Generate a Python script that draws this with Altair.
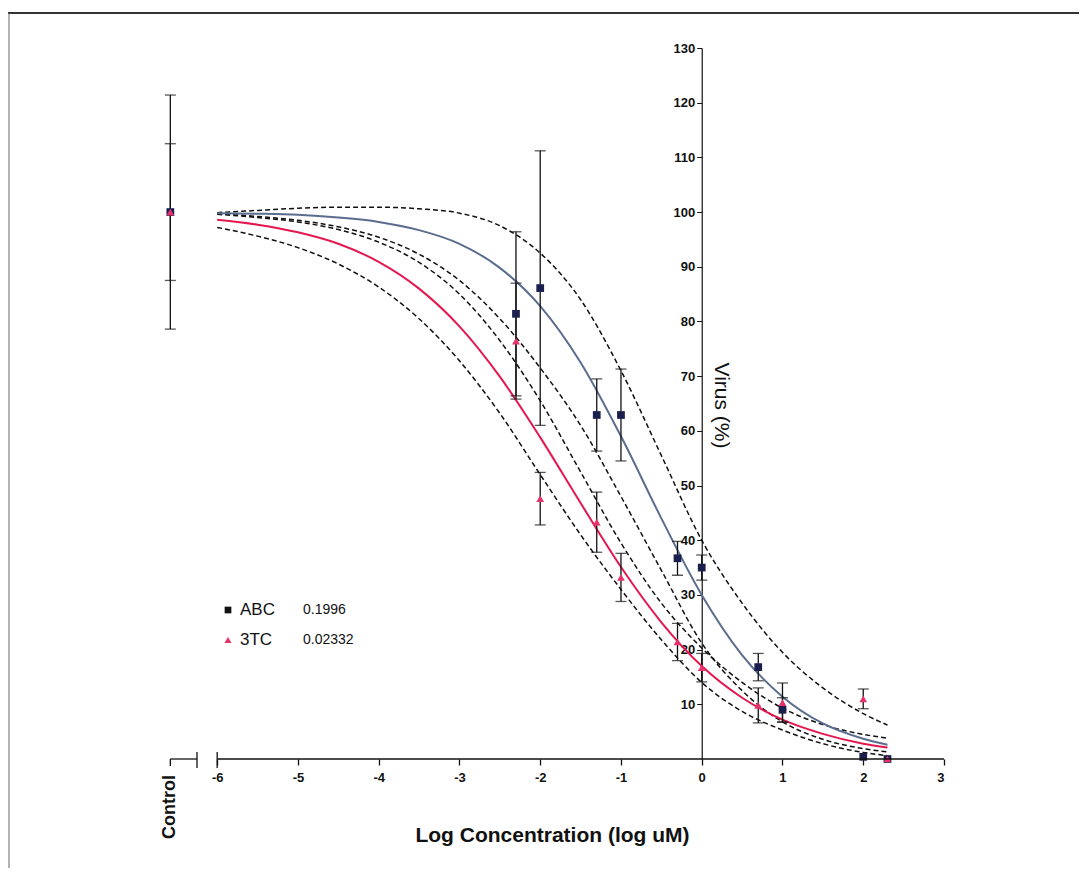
import altair as alt
import pandas as pd

# ---------------- data ----------------
curve_x   = [-6.0, -5.5, -5.0, -4.5, -4.0, -3.5, -3.0, -2.5, -2.0, -1.5, -1.0, -0.5, 0.0, 0.5, 1.0, 1.5, 2.0, 2.3]
abc_fit   = [99.8, 99.7, 99.5, 99.0, 98.2, 96.7, 94.2, 89.8, 82.8, 72.5, 59.0, 44.0, 30.0, 19.0, 11.4, 6.5, 3.7, 2.6]
abc_upper = [99.9, 100.3, 100.7, 100.9, 100.9, 100.6, 99.8, 97.5, 92.5, 84.0, 71.0, 55.5, 40.0, 28.5, 19.5, 13.0, 8.3, 6.2]
abc_lower = [99.7, 99.2, 98.5, 97.3, 95.4, 92.3, 87.5, 80.5, 71.5, 61.0, 48.0, 34.5, 21.2, 12.5, 6.8, 3.6, 1.9, 1.3]
tc_fit    = [98.6, 97.7, 96.3, 94.2, 90.9, 86.0, 79.1, 69.9, 58.8, 46.8, 35.1, 25.0, 17.0, 11.2, 7.2, 4.6, 2.8, 2.1]
tc_upper  = [99.6, 99.0, 98.2, 96.8, 94.5, 90.8, 85.0, 76.5, 65.5, 52.5, 39.5, 28.5, 20.3, 14.0, 9.3, 6.3, 4.5, 3.8]
tc_lower  = [97.2, 95.6, 93.5, 90.5, 86.3, 80.5, 72.8, 63.2, 52.0, 41.0, 31.0, 21.8, 14.0, 8.7, 5.3, 2.8, 1.2, 0.6]

CONTROL_X = -6.58
point_x = [CONTROL_X, -2.3, -2.0, -1.3, -1.0, -0.3, 0.0, 0.7, 1.0, 2.0, 2.3]
abc_y   = [100.0, 81.4, 86.1, 62.9, 62.9, 36.7, 35.0, 16.8, 9.0, 0.4, 0.0]
abc_err = [21.4, 15.0, 25.1, 6.6, 8.4, 3.1, 2.3, 2.5, 2.2, 0.0, 0.0]
tc_y    = [100.0, 76.4, 47.6, 43.3, 33.2, 21.4, 16.7, 9.8, 10.3, 11.0, 0.0]
tc_err  = [12.5, 10.6, 4.8, 5.5, 4.4, 3.4, 2.6, 3.2, 3.6, 1.8, 0.0]

x_ticks = [-6, -5, -4, -3, -2, -1, 0, 1, 2, 3]
y_ticks = [10, 20, 30, 40, 50, 60, 70, 80, 90, 100, 110, 120, 130]
legend_names = ["ABC", "3TC"]
legend_ic50 = ["0.1996", "0.02332"]
control_label = ["Control"]

# ---------------- tables ----------------
rows = []
for name, vals, kind in [("ABC", abc_fit, "fit"), ("ABC", abc_upper, "upper"), ("ABC", abc_lower, "lower"),
                         ("3TC", tc_fit, "fit"), ("3TC", tc_upper, "upper"), ("3TC", tc_lower, "lower")]:
    for xv, yv in zip(curve_x, vals):
        rows.append({"x": xv, "y": yv, "series": name, "kind": kind, "cid": name + kind})
curves = pd.DataFrame(rows)

prow = []
for name, ys_, es in [("ABC", abc_y, abc_err), ("3TC", tc_y, tc_err)]:
    for xv, yv, ev in zip(point_x, ys_, es):
        prow.append({"x": xv, "y": yv, "lo": yv - ev, "hi": yv + ev, "err": ev, "series": name})
points = pd.DataFrame(prow)
errs = points[points["err"] > 0]
caps = pd.concat([errs.assign(cy=errs["lo"]), errs.assign(cy=errs["hi"])])

W, H = 784, 711
XMIN, XMAX = -6.708, 3.0
x_zero_px = (0 - XMIN) / (XMAX - XMIN) * W

xs = alt.Scale(domain=[XMIN, XMAX], nice=False, zero=False)
ys = alt.Scale(domain=[0, 130], nice=False, zero=False)

xaxis = alt.Axis(values=x_ticks, domain=False, grid=False, ticks=True, tickSize=6, tickColor="#111",
                 tickWidth=1.3, labelExpr="'' + datum.value",
                 labelFont="Liberation Sans", labelFontWeight="bold", labelFontSize=13, labelColor="#111",
                 labelPadding=6, title="Log Concentration (log uM)", titleFont="Liberation Sans",
                 titleFontWeight="bold", titleFontSize=21, titleColor="#111", titleY=76, titleBaseline="middle")
yaxis = alt.Axis(values=y_ticks, offset=-x_zero_px, grid=False, domainColor="#111", domainWidth=1.2,
                 tickColor="#111", tickSize=5, labelFont="Liberation Sans", labelFontWeight="bold",
                 labelFontSize=13, labelColor="#111", labelPadding=2,
                 title="Virus  (%)", titleAngle=90, titleX=19, titleY=357, titleAlign="center",
                 titleBaseline="middle", titleFont="Liberation Sans", titleFontWeight="normal",
                 titleFontSize=21, titleColor="#111")


def X(f):
    return alt.X(f, type="quantitative", scale=xs, axis=xaxis)


def Y(f):
    return alt.Y(f, type="quantitative", scale=ys, axis=yaxis)


color_scale = alt.Scale(domain=["ABC", "3TC"], range=["#5b6d8f", "#e5174f"])

bands = alt.Chart(curves[curves["kind"] != "fit"]).mark_line(
    color="#111", strokeDash=[5, 3], strokeWidth=1.5, interpolate="monotone"
).encode(x=X("x"), y=Y("y"), detail="cid:N")

fits = alt.Chart(curves[curves["kind"] == "fit"]).mark_line(
    strokeWidth=2, interpolate="monotone"
).encode(x=X("x"), y=Y("y"), color=alt.Color("series:N", scale=color_scale, legend=None))

ebars = alt.Chart(errs).mark_rule(color="#111", strokeWidth=1.3).encode(
    x=X("x"), y=Y("lo"), y2="hi")
ecaps = alt.Chart(caps).mark_tick(color="#111", orient="horizontal", size=11, thickness=1.3).encode(
    x=X("x"), y=Y("cy"))

abc_pts = alt.Chart(points[points["series"] == "ABC"]).mark_point(
    shape="square", filled=True, size=60, color="#1b1f4d", opacity=1).encode(x=X("x"), y=Y("y"))
tc_pts = alt.Chart(points[points["series"] == "3TC"]).mark_point(
    shape="triangle-up", filled=True, size=60, color="#e8336a", opacity=1).encode(x=X("x"), y=Y("y"))

# axis line segments (broken axis)
seg = pd.DataFrame({"a": [x_ticks[0]], "b": [x_ticks[-1]], "c": [CONTROL_X], "d": [-6.25]})
main_line = alt.Chart(seg).mark_rule(color="#111", strokeWidth=1.3).encode(
    x=X("a"), x2="b:Q", y=alt.value(H))
ctrl_line = alt.Chart(seg).mark_rule(color="#111", strokeWidth=1.3).encode(
    x=X("c"), x2="d:Q", y=alt.value(H))
ctrl_tick = alt.Chart(seg).mark_rule(color="#111", strokeWidth=1.3).encode(
    x=X("c"), y=alt.value(H), y2=alt.value(H + 7))
brk1 = alt.Chart(seg).mark_rule(color="#111", strokeWidth=1.3).encode(
    x=X("d"), y=alt.value(H - 7), y2=alt.value(H + 9))
brk2 = alt.Chart(seg).mark_rule(color="#111", strokeWidth=1.3).encode(
    x=X("a"), y=alt.value(H - 7), y2=alt.value(H + 9))

ctrl_text = alt.Chart(pd.DataFrame({"t": control_label, "x": [CONTROL_X]})).mark_text(
    angle=270, align="center", baseline="middle", font="Liberation Sans", fontWeight="bold",
    fontSize=18, color="#111", dx=-6).encode(
    x=X("x"), y=alt.value(H + 42), text="t:N")

# legend drawn inside the plot
leg_layers = []
for i, (nm, ic) in enumerate(zip(legend_names, legend_ic50)):
    ly = 562 + 30 * i
    d = pd.DataFrame({"n": [nm], "v": [ic]})
    if i == 0:
        sym = alt.Chart(d).mark_point(shape="square", filled=True, size=45, color="#111", opacity=1)
    else:
        sym = alt.Chart(d).mark_point(shape="triangle-up", filled=True, size=50, color="#e8336a", opacity=1)
    leg_layers.append(sym.encode(x=alt.value(68), y=alt.value(ly)))
    leg_layers.append(alt.Chart(d).mark_text(align="left", baseline="middle", font="Liberation Sans",
                                             fontSize=17, color="#111").encode(
        x=alt.value(80), y=alt.value(ly), text="n:N"))
    leg_layers.append(alt.Chart(d).mark_text(align="left", baseline="middle", font="Liberation Sans",
                                             fontSize=14, color="#111").encode(
        x=alt.value(143), y=alt.value(ly), text="v:N"))

# frame lines of the scanned figure
frame_d = pd.DataFrame({"k": [0]})
frame_top = alt.Chart(frame_d).mark_rule(color="#333", strokeWidth=2).encode(
    x=alt.value(-152), x2=alt.value(940), y=alt.value(-35))
frame_left = alt.Chart(frame_d).mark_rule(color="#666", strokeWidth=1).encode(
    x=alt.value(-151), y=alt.value(-35), y2=alt.value(820))

chart = alt.layer(
    bands, fits, ebars, ecaps, abc_pts, tc_pts,
    main_line, ctrl_line, ctrl_tick, brk1, brk2, ctrl_text, frame_top, frame_left, *leg_layers
).properties(
    width=W, height=H,
    background="white",
    autosize=alt.AutoSizeParams(type="none"),
    padding={"left": 152, "top": 40, "right": 135, "bottom": 110},
).configure_view(strokeWidth=0, stroke="transparent")

chart.save("out.html", embed_options={"renderer": "svg", "actions": False})
